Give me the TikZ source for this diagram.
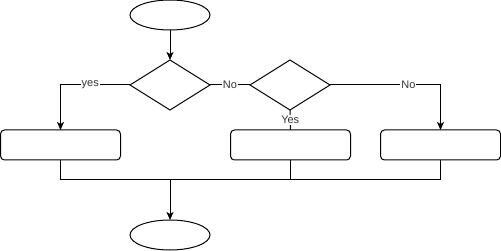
\documentclass[tikz,border=0pt]{standalone}
\usepackage{fontspec}
\setmainfont{Liberation Sans}
\usetikzlibrary{shapes.geometric,arrows.meta}
\begin{document}
\begin{tikzpicture}[x=1pt,y=-1pt,line width=1pt,
  every node/.style={outer sep=0pt,inner sep=0pt},
  terminal/.style={ellipse,draw,minimum width=80pt,minimum height=30pt},
  decision/.style={diamond,draw,minimum width=80pt,minimum height=50pt,aspect=1.6},
  process/.style={rectangle,draw,rounded corners=4pt,minimum width=120pt,minimum height=30pt},
  flow/.style={-{Stealth[length=8pt,width=7pt,inset=2pt]}},
  lbl/.style={fill=white,inner sep=1pt,font=\fontsize{11}{13}\selectfont,text=black!80}]
  \useasboundingbox (0,0) rectangle (501,251);

  % shapes
  \node[terminal] (start) at (170,15) {};
  \node[decision] (d1) at (170,85) {};
  \node[decision] (d2) at (290,85) {};
  \node[process] (p1) at (60.5,145) {};
  \node[process] (p2) at (290.5,145) {};
  \node[process] (p3) at (440.5,145) {};
  \node[terminal] (stop) at (170,235) {};

  % junction above the end terminal
  \coordinate (j) at (170,180);

  % connectors
  \draw[flow] (d1.west) -| node[lbl,pos=0.286] {yes} (p1.north);
  \draw[flow] (start) -- (d1);
  \draw (d1.east) -- node[lbl] {No} (d2.west);
  \draw[flow] (d2.east) -| node[lbl,pos=0.355] {No} (p3.north);
  \draw (d2.south) -- node[lbl] {Yes} (p2.north);

  \draw (p1.south) |- (j);
  \draw (p2.south) |- (j);
  \draw (p3.south) |- (j);
  \draw[flow] (j) -- (stop.north);
\end{tikzpicture}
\end{document}
